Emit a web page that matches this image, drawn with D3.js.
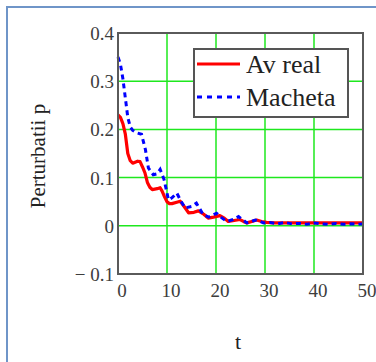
<!DOCTYPE html>
<html>
<head>
<meta charset="utf-8">
<script src="https://cdn.jsdelivr.net/npm/d3@7/dist/d3.min.js"></script>
<style>
  html, body { margin: 0; padding: 0; background: #fff; }
  svg { display: block; }
  svg text { font-family: "Liberation Serif", "Times New Roman", "DejaVu Serif", serif; }
</style>
</head>
<body>
<script>
"use strict";

// data
var tRed = [0, 0.5, 1, 1.5, 2, 2.5, 3, 4, 4.5, 5, 5.5, 6, 6.5, 7, 8, 8.6, 9, 9.5, 10, 10.5, 11, 12, 12.7, 13.5, 14.4, 15.5, 16.4, 17.5, 18.4, 19.5, 20.8, 21.7, 22.5, 23.7, 24.9, 25.6, 26.3, 27.3, 28.3, 29.3, 30.3, 32, 34, 36, 38, 40, 42, 44, 46, 48, 50];
var avReal = [0.230, 0.225, 0.212, 0.19, 0.15, 0.135, 0.13, 0.134, 0.133, 0.122, 0.11, 0.09, 0.08, 0.075, 0.077, 0.079, 0.072, 0.06, 0.05, 0.046, 0.046, 0.049, 0.051, 0.04, 0.027, 0.028, 0.031, 0.024, 0.016, 0.018, 0.021, 0.016, 0.009, 0.011, 0.013, 0.009, 0.006, 0.009, 0.012, 0.009, 0.007, 0.006, 0.006, 0.006, 0.006, 0.006, 0.006, 0.006, 0.006, 0.006, 0.006];

var tBlue = [0, 0.5, 1, 1.5, 2, 2.5, 3, 3.8, 4.8, 5.6, 6.2, 7.2, 8, 8.6, 9.4, 10.3, 11, 12, 12.8, 13.7, 15, 16, 16.7, 17.4, 18.5, 20.1, 21, 22.2, 23.5, 24.6, 25.5, 26.3, 27, 28, 29, 29.7, 31, 32.5, 34, 35.5, 37, 38.5, 40, 41.5, 43, 44.5, 46, 47.5, 49, 50];
var macheta = [0.35, 0.335, 0.305, 0.265, 0.225, 0.205, 0.198, 0.193, 0.19, 0.158, 0.12, 0.106, 0.108, 0.117, 0.096, 0.054, 0.058, 0.068, 0.052, 0.037, 0.04, 0.047, 0.035, 0.023, 0.018, 0.026, 0.018, 0.009, 0.013, 0.019, 0.012, 0.006, 0.008, 0.012, 0.009, 0.006, 0.007, 0.004, 0.007, 0.004, 0.005, 0.003, 0.006, 0.004, 0.003, 0.005, 0.003, 0.004, 0.003, 0.004];

var xTicks = [0, 10, 20, 30, 40, 50];
var yTicks = [-0.1, 0, 0.1, 0.2, 0.3, 0.4];
var yTickLabels = ["\u2212 0.1", "0", "0.1", "0.2", "0.3", "0.4"];
var seriesNames = ["Av real", "Macheta"];

// layout
var W = 376, H = 362;
var plotL = 118, plotR = 363, plotT = 33, plotB = 274;

var svg = d3.select("body").append("svg")
    .attr("width", W)
    .attr("height", H);

// outer frame (left + top only visible)
svg.append("path")
    .attr("d", "M7," + H + "V7H" + W)
    .attr("fill", "none")
    .attr("stroke", "#6f95c8")
    .attr("stroke-width", 2);

var x = d3.scaleLinear().domain([0, 50]).range([plotL, plotR]);
var y = d3.scaleLinear().domain([-0.1, 0.4]).range([plotB, plotT]);

// grid
var grid = svg.append("g");
grid.selectAll("line.gx")
  .data(xTicks.slice(1, -1))
  .enter().append("line")
    .attr("x1", d => x(d)).attr("x2", d => x(d))
    .attr("y1", plotT).attr("y2", plotB)
    .attr("stroke", "#1ee81e").attr("stroke-width", 1.5);
grid.selectAll("line.gy")
  .data(yTicks.slice(1, -1))
  .enter().append("line")
    .attr("y1", d => y(d)).attr("y2", d => y(d))
    .attr("x1", plotL).attr("x2", plotR)
    .attr("stroke", "#1ee81e").attr("stroke-width", 1.5);

// series
var lineRed = d3.line()
    .x((d, i) => x(tRed[i]))
    .y(d => y(d));
var lineBlue = d3.line()
    .x((d, i) => x(tBlue[i]))
    .y(d => y(d));

svg.append("path")
    .attr("d", lineRed(avReal))
    .attr("fill", "none")
    .attr("stroke", "#ff0000")
    .attr("stroke-width", 3.2)
    .attr("stroke-linejoin", "round");

svg.append("path")
    .attr("d", lineBlue(macheta))
    .attr("fill", "none")
    .attr("stroke", "#0000ff")
    .attr("stroke-width", 3)
    .attr("stroke-dasharray", "5,4");

// plot frame
svg.append("rect")
    .attr("x", plotL).attr("y", plotT)
    .attr("width", plotR - plotL).attr("height", plotB - plotT)
    .attr("fill", "none")
    .attr("stroke", "#5a5a5a")
    .attr("stroke-width", 2);

// tick labels
svg.append("g").selectAll("text")
  .data(yTicks)
  .enter().append("text")
    .attr("x", plotL - 4)
    .attr("y", d => y(d) + 7)
    .attr("text-anchor", "end")
    .attr("font-size", 19)
    .attr("fill", "#3d3d3d")
    .text((d, i) => yTickLabels[i]);

svg.append("g").selectAll("text")
  .data(xTicks)
  .enter().append("text")
    .attr("x", d => x(d) + 4)
    .attr("y", 297)
    .attr("text-anchor", "middle")
    .attr("font-size", 19)
    .attr("fill", "#3d3d3d")
    .text(d => d);

// axis titles
svg.append("text")
    .attr("x", 238).attr("y", 349)
    .attr("text-anchor", "middle")
    .attr("font-size", 22)
    .attr("fill", "#222")
    .text("t");

svg.append("text")
    .attr("transform", "translate(45,156) rotate(-90)")
    .attr("text-anchor", "middle")
    .attr("font-size", 21)
    .attr("fill", "#222")
    .text("Perturbatii p");

// legend
var lg = svg.append("g");
lg.append("rect")
    .attr("x", 194).attr("y", 49)
    .attr("width", 154).attr("height", 68)
    .attr("fill", "#fff")
    .attr("stroke", "#555")
    .attr("stroke-width", 2);

var legRows = [
  {name: seriesNames[0], color: "#ff0000", dash: null, yy: 64},
  {name: seriesNames[1], color: "#0000ff", dash: "5,5", yy: 97}
];
legRows.forEach(function (r) {
  lg.append("line")
      .attr("x1", 197).attr("x2", 240)
      .attr("y1", r.yy).attr("y2", r.yy)
      .attr("stroke", r.color)
      .attr("stroke-width", 3)
      .attr("stroke-dasharray", r.dash);
  lg.append("text")
      .attr("x", 246).attr("y", r.yy + 9)
      .attr("font-size", 26)
      .attr("fill", "#222")
      .text(r.name);
});
</script>
</body>
</html>
